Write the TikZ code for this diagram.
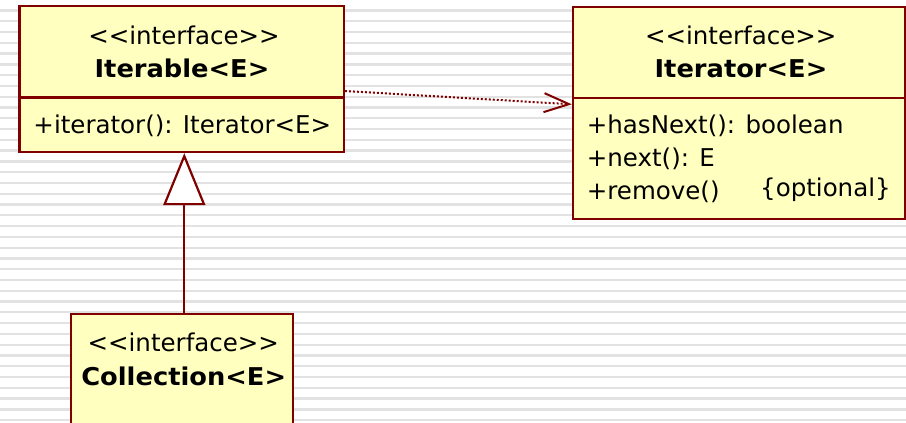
\documentclass[tikz,border=0pt]{standalone}
\usepackage{fontspec}
\setmainfont{DejaVu Sans}[BoldFeatures={FakeStretch=1.05}]
\usetikzlibrary{arrows.meta}
\definecolor{umlred}{HTML}{800000}
\definecolor{umlfill}{HTML}{FFFFC0}
\definecolor{stripe}{HTML}{E2E2E2}

\begin{document}
\begin{tikzpicture}[x=1pt,y=-1pt,
  classbox/.style={draw=umlred, fill=umlfill, line width=2.4pt, inner sep=0pt, outer sep=1.2pt},
  sepline/.style={draw=umlred, line width=2.4pt},
  txt/.style={anchor=base, inner sep=0pt, font=\fontsize{24.5}{29}\selectfont},
  member/.style={txt, anchor=base west},
  cname/.style={txt, font=\fontsize{24.5}{29}\selectfont\bfseries},
  dep/.style={draw=umlred, line width=2pt, dash pattern=on 2pt off 2pt,
    -{Straight Barb[length=25pt,width=19pt]}},
  gen/.style={draw=umlred, line width=2.2pt,
    -{Triangle[open,length=52pt,width=42pt,fill=white]}},
]
\path[use as bounding box] (0,0) rectangle (906,423);
\clip (0,0) rectangle (906,423);

% striped page background
\fill[white] (0,0) rectangle (906,423);
\foreach \k in {0,...,38}{
  \draw[stripe, line width=2.3pt] (0,10.5+10.78*\k) -- (906,10.5+10.78*\k);
}

% class boxes
\node[classbox, minimum width=324.3pt, minimum height=145.8pt] (iterable) at (181.65,79.1) {};
\node[classbox, minimum width=331.7pt, minimum height=211.5pt] (iterator) at (738.85,112.95) {};
\node[classbox, minimum width=222.3pt, minimum height=126.2pt] (collection) at (181.85,376.9) {};

% compartment separators
\coordinate (sepA) at (0,97.5);
\coordinate (sepB) at (0,98);
\draw[sepline] (iterable.west |- sepA) -- (iterable.east |- sepA);
\draw[sepline] (iterator.west |- sepB) -- (iterator.east |- sepB);

% Iterable<E>
\node[txt] (itbleSt) at (184,45) {<{}<interface>{}>};
\node[cname] (itbleName) at (182,77.3) {Iterable<E>};
\node[member] (itbleM1) at (33.3,133.3) {+iterator(): Iterator<E>};

% Iterator<E>
\node[txt] (itorSt) at (740.7,45) {<{}<interface>{}>};
\node[cname] (itorName) at (741,77.3) {Iterator<E>};
\node[member] (itorM1) at (586.7,133.3) {+hasNext(): boolean};
\node[member] (itorM2) at (586.7,166.7) {+next(): E};
\node[member] (itorM3) at (586.7,199) {+remove()};
\node[member] (itorOpt) at (760,196.7) {\{optional\}};

% Collection<E>
\node[txt] (collSt) at (183.3,351) {<{}<interface>{}>};
\node[cname] (collName) at (183.7,385) {Collection<E>};

% relations
\coordinate (depFrom) at (0,91);
\coordinate (depTo) at (0,104.3);
\draw[dep] (iterable.east |- depFrom) -- (iterator.west |- depTo);

\coordinate (genX) at (184.3,0);
\draw[gen] (collection.north -| genX) -- (iterable.south -| genX);
\end{tikzpicture}
\end{document}
